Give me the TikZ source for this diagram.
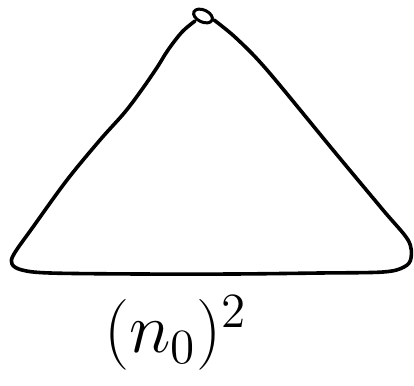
\documentclass[tikz,border=0pt]{standalone}
\begin{document}
\begin{tikzpicture}[x=1pt,y=-1pt,
  ink/.style={line width=3.6pt,line cap=round,line join=round,black},
  lbl/.style={font=\LARGE,inner sep=0pt,scale=4.1,transform shape}]
\useasboundingbox (0,0) rectangle (414,385);
% triangle outline
\draw[ink] plot[smooth,tension=0.55] coordinates {
  (195,21) (182,32) (168,50) (158,66) (143,88) (125,112) (100,140)
  (67,180) (33,227) (14,254) (12,264) (22,270) (50,273) (140,274)
  (233,274) (320,273) (383,272) (404,267) (411,258) (408,240)
  (383,210) (333,150) (267,70) (236,38) (214,20)};
% small loop at apex
\draw[ink,line width=3pt] (203,16) ellipse [x radius=10pt,y radius=6pt,rotate=-25];
% label
\node[lbl] (label) at (176,333) {$(n_0)^2$};
\end{tikzpicture}
\end{document}
